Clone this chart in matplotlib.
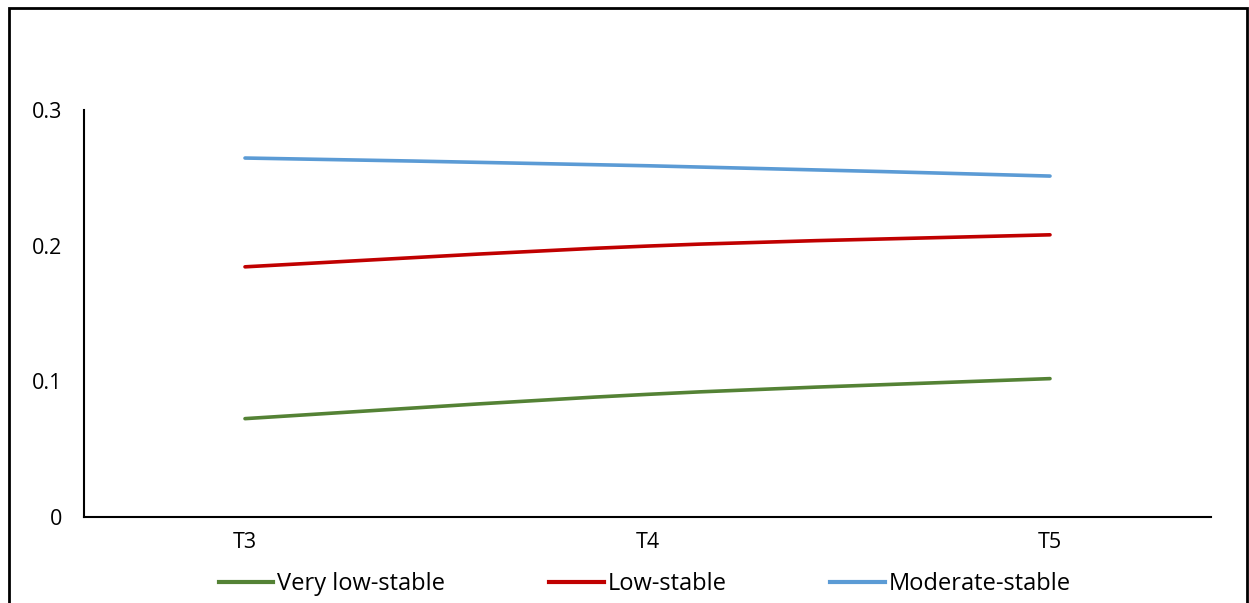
import matplotlib.pyplot as plt
import numpy as np
from matplotlib.path import Path
from matplotlib.patches import PathPatch, Rectangle
from matplotlib.lines import Line2D

# --- DATA ---
waves = ["T3", "T4", "T5"]
very_low_stable = [0.0725, 0.0904, 0.1020]
low_stable = [0.1844, 0.1997, 0.2080]
moderate_stable = [0.2646, 0.2589, 0.2513]

series = [
    ("Very low-stable", very_low_stable, "#548235"),
    ("Low-stable", low_stable, "#C00000"),
    ("Moderate-stable", moderate_stable, "#5B9BD5"),
]

plt.rcParams['font.family'] = ['Open Sans', 'DejaVu Sans']


def smooth_path(xs, ys):
    # Catmull-Rom style bezier through the points (like a "smoothed line" chart)
    pts = np.column_stack([xs, ys]).astype(float)
    verts = [pts[0]]
    codes = [Path.MOVETO]
    n = len(pts)
    for i in range(n - 1):
        p0 = pts[max(i - 1, 0)]
        p1 = pts[i]
        p2 = pts[i + 1]
        p3 = pts[min(i + 2, n - 1)]
        c1 = p1 + (p2 - p0) / 6.0
        c2 = p2 - (p3 - p1) / 6.0
        verts += [c1, c2, p2]
        codes += [Path.CURVE4] * 3
    return Path(verts, codes)


fig = plt.figure(figsize=(12.49, 6.03), dpi=100)
ax = fig.add_axes([84 / 1249, 1 - 517 / 603, (1211 - 84) / 1249, (517 - 110) / 603])

x = np.arange(len(waves))
for name, vals, color in series:
    patch = PathPatch(smooth_path(x, vals), facecolor="none", edgecolor=color,
                      lw=2.6, capstyle="round")
    ax.add_patch(patch)

ax.set_xlim(-0.4, 2.4)
ax.set_ylim(0, 0.3)
ax.set_xticks(x)
ax.set_xticklabels(waves)
ax.set_yticks([0, 0.1, 0.2, 0.3])
ax.set_yticklabels(["0", "0.1", "0.2", "0.3"])
ax.tick_params(length=0, labelsize=15.5, colors="black")
ax.tick_params(axis="y", pad=16)
ax.tick_params(axis="x", pad=11)
for side in ["top", "right"]:
    ax.spines[side].set_visible(False)
for side in ["left", "bottom"]:
    ax.spines[side].set_linewidth(1.5)
    ax.spines[side].set_color("black")

handles = [Line2D([], [], color=c, lw=3) for _, _, c in series]
fig.legend(handles, [s[0] for s in series], loc="center", ncol=3,
           bbox_to_anchor=(645 / 1249, 1 - 584 / 603), frameon=False,
           fontsize=17, handlelength=2.3, handletextpad=0.17, columnspacing=4.4)

# outer chart frame
fig.patches.append(Rectangle((9 / 1249, -0.05), (1247 - 9) / 1249, 1.05 - 8 / 603,
                             transform=fig.transFigure, fill=False,
                             edgecolor="black", lw=2))

fig.savefig("out.png", dpi=100)
